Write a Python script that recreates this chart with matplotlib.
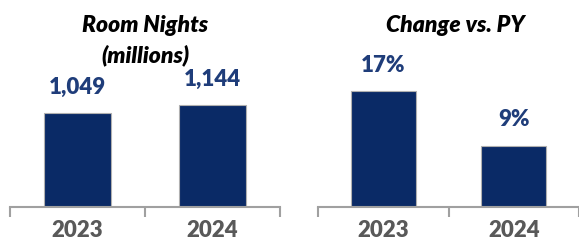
import matplotlib.pyplot as plt

plt.rcParams['font.family'] = ['Lato', 'DejaVu Sans']

years = ["2023", "2024"]
room_nights = [1049, 1144]
room_labels = ["1,049", "1,144"]
change_pct = [17, 9]
change_labels = ["17%", "9%"]

navy = "#0a2a66"
label_blue = "#1f3d7a"
grey = "#595959"
axis_grey = "#a0a0a0"

W, H = 579, 243
fig = plt.figure(figsize=(W / 100, H / 100), dpi=100)
fig.patch.set_facecolor("white")


def setup(ax, xmax, ymax):
    ax.set_xlim(-0.5, xmax)
    ax.set_ylim(0, ymax)
    for s in ["top", "right", "left"]:
        ax.spines[s].set_visible(False)
    ax.spines["bottom"].set_color(axis_grey)
    ax.spines["bottom"].set_linewidth(1.5)
    ax.set_yticks([])
    ax.set_xticks([0, 1])
    ax.set_xticklabels(years, fontsize=16, fontweight="heavy", color=grey)
    ax.tick_params(axis="x", which="major", length=0, pad=9)
    ax.set_xticks([-0.5, 0.5, 1.5], minor=True)
    ax.tick_params(axis="x", which="minor", length=7, width=1.5,
                   color=axis_grey, direction="out")
    ax.patch.set_alpha(0)


# left panel: room nights
ax1 = fig.add_axes([10 / W, 36 / H, 270 / W, 207 / H])
ax1.bar(range(len(years)), room_nights, width=0.5, color=navy,
        edgecolor="#b0b0b0", linewidth=0.8)
setup(ax1, 1.5, 207 / 0.0892)
for i, (v, t) in enumerate(zip(room_nights, room_labels)):
    ax1.annotate(t, (i, v), xytext=(0, 11), textcoords="offset points",
                 ha="center", va="bottom", fontsize=16, fontweight="heavy",
                 color=label_blue)

# right panel: change vs PY
ax2 = fig.add_axes([318 / W, 36 / H, 261 / W, 207 / H])
ax2.bar(range(len(years)), change_pct, width=0.5, color=navy,
        edgecolor="#b0b0b0", linewidth=0.8)
setup(ax2, -0.5 + 261 / 135, 207 / 6.82)
for i, (v, t) in enumerate(zip(change_pct, change_labels)):
    ax2.annotate(t, (i, v), xytext=(0, 11), textcoords="offset points",
                 ha="center", va="bottom", fontsize=16, fontweight="heavy",
                 color=label_blue)

fig.text(145 / W, 1 - 25 / H, "Room Nights", ha="center", va="center",
         fontsize=16.5, fontweight="heavy", fontstyle="italic", color="black")
fig.text(145 / W, 1 - 55 / H, "(millions)", ha="center", va="center",
         fontsize=16.5, fontweight="heavy", fontstyle="italic", color="black")
fig.text(455 / W, 1 - 25 / H, "Change vs. PY", ha="center", va="center",
         fontsize=16.5, fontweight="heavy", fontstyle="italic", color="black")

fig.savefig("out.png", dpi=100)
